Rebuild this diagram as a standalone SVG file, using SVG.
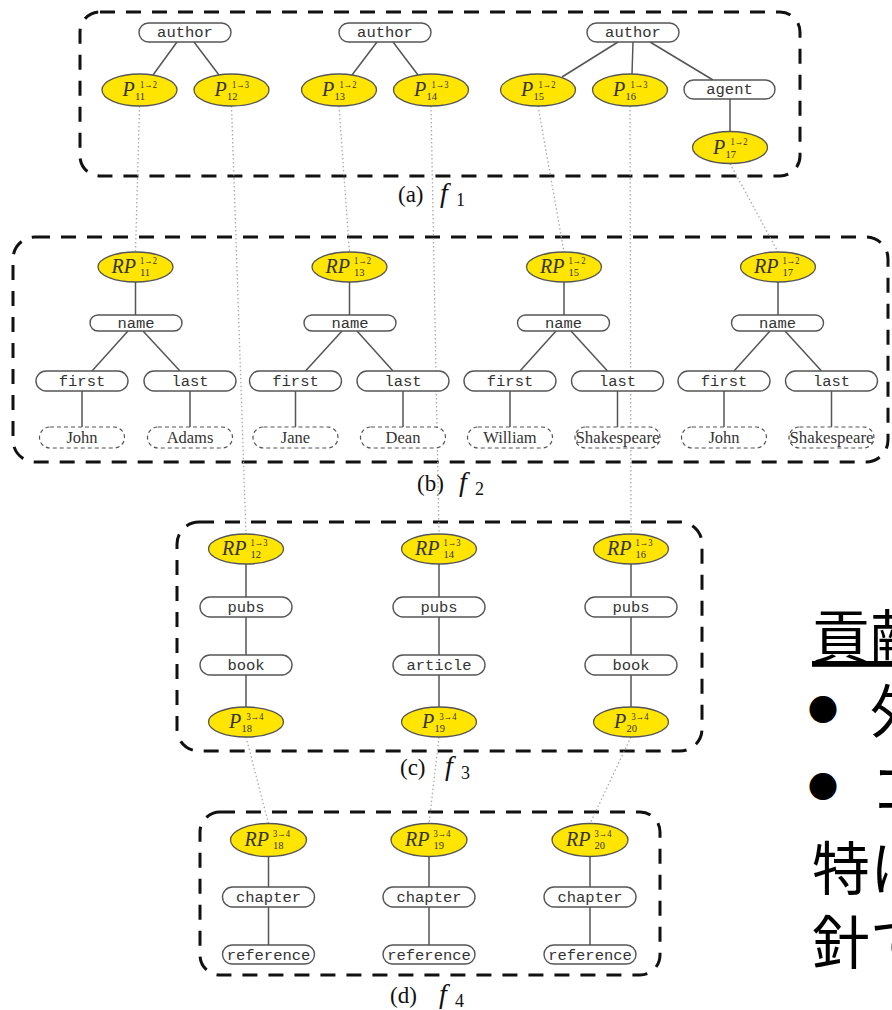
<svg xmlns="http://www.w3.org/2000/svg" width="892" height="1010" viewBox="0 0 892 1010">
<defs>
<style>
.frame{fill:none;stroke:#111;stroke-width:3;stroke-dasharray:15 11}
.box{fill:#fff;stroke:#555;stroke-width:1.4}
.dbox{fill:#fff;stroke:#555;stroke-width:1.2;stroke-dasharray:4 3}
.ell{fill:#FFE500;stroke:#555;stroke-width:1.3}
.edge{stroke:#555;stroke-width:1.5;fill:none}
.dot{stroke:#aaa;stroke-width:1.3;stroke-dasharray:1.5 2.5;fill:none}
.tt{font-family:"Liberation Mono","DejaVu Sans Mono",monospace;font-size:15.5px;fill:#333;text-anchor:middle}
.dt{font-family:"Liberation Serif","DejaVu Serif",serif;font-size:16.5px;fill:#333;text-anchor:middle}
.mi{font-family:"Liberation Serif","DejaVu Serif",serif;font-style:italic;font-size:20px;fill:#333}
.sm{font-family:"Liberation Serif","DejaVu Serif",serif;font-size:10.5px;fill:#333}
.cap{font-family:"Liberation Serif","DejaVu Serif",serif;font-size:23px;fill:#111}
.fi{font-style:italic;font-size:28px}
.fs{font-size:18px}
.jp{font-family:"Noto Sans CJK JP",sans-serif;font-size:58px;fill:#000}
</style>
</defs>
<rect width="892" height="1010" fill="#fff"/>

<!-- frames -->
<g id="frames">
<rect class="frame" x="80" y="12" width="720" height="164" rx="20"/>
<rect class="frame" x="13" y="237" width="875" height="225" rx="22"/>
<rect class="frame" x="177" y="522" width="525" height="229" rx="22"/>
<rect class="frame" x="200" y="812" width="460" height="163" rx="20"/>
</g>

<!-- captions -->
<g id="captions">
<text class="cap" y="202"><tspan x="398">(a)</tspan><tspan x="440" class="fi">f</tspan><tspan x="456" y="206" class="fs">1</tspan></text>
<text class="cap" y="491"><tspan x="417">(b)</tspan><tspan x="459" class="fi">f</tspan><tspan x="475" y="495" class="fs">2</tspan></text>
<text class="cap" y="775"><tspan x="400">(c)</tspan><tspan x="445" class="fi">f</tspan><tspan x="461" y="779" class="fs">3</tspan></text>
<text class="cap" y="1003"><tspan x="390">(d)</tspan><tspan x="439" class="fi">f</tspan><tspan x="455" y="1007" class="fs">4</tspan></text>
</g>

<!-- connectors -->
<g id="connectors">
<!-- (a) tree edges -->
<line class="edge" x1="177" y1="42" x2="153" y2="75"/>
<line class="edge" x1="194" y1="42" x2="219" y2="75"/>
<line class="edge" x1="377" y1="42" x2="352" y2="75"/>
<line class="edge" x1="393" y1="42" x2="418" y2="75"/>
<line class="edge" x1="618" y1="42" x2="562" y2="77"/>
<line class="edge" x1="633" y1="42" x2="632" y2="74"/>
<line class="edge" x1="650" y1="42" x2="713" y2="80"/>
<line class="edge" x1="730" y1="99" x2="730" y2="132"/>
<!-- (b) tree edges -->
<line class="edge" x1="135.5" y1="282" x2="135.5" y2="315"/>
<line class="edge" x1="128" y1="331" x2="92" y2="371"/>
<line class="edge" x1="143" y1="331" x2="180" y2="371"/>
<line class="edge" x1="82" y1="391" x2="82" y2="427"/>
<line class="edge" x1="190" y1="391" x2="190" y2="427"/>
<line class="edge" x1="349.5" y1="282" x2="349.5" y2="315"/>
<line class="edge" x1="342" y1="331" x2="305.5" y2="371"/>
<line class="edge" x1="357" y1="331" x2="393" y2="371"/>
<line class="edge" x1="295.5" y1="391" x2="295.5" y2="427"/>
<line class="edge" x1="403" y1="391" x2="403" y2="427"/>
<line class="edge" x1="564" y1="282" x2="564" y2="315"/>
<line class="edge" x1="556" y1="331" x2="520" y2="371"/>
<line class="edge" x1="571" y1="331" x2="607.5" y2="371"/>
<line class="edge" x1="510" y1="391" x2="510" y2="427"/>
<line class="edge" x1="617.5" y1="391" x2="617.5" y2="427"/>
<line class="edge" x1="778" y1="282" x2="778" y2="315"/>
<line class="edge" x1="770" y1="331" x2="734" y2="371"/>
<line class="edge" x1="785" y1="331" x2="821.5" y2="371"/>
<line class="edge" x1="724" y1="391" x2="724" y2="427"/>
<line class="edge" x1="831.5" y1="391" x2="831.5" y2="427"/>
<!-- (c) tree edges -->
<line class="edge" x1="246" y1="564" x2="246" y2="707"/>
<line class="edge" x1="439" y1="564" x2="439" y2="707"/>
<line class="edge" x1="631" y1="564" x2="631" y2="707"/>
<!-- (d) tree edges -->
<line class="edge" x1="268.5" y1="856" x2="268.5" y2="945"/>
<line class="edge" x1="429" y1="856" x2="429" y2="945"/>
<line class="edge" x1="590" y1="856" x2="590" y2="945"/>
<!-- dotted cross links -->
<line class="dot" x1="139.5" y1="106" x2="135.5" y2="252"/>
<line class="dot" x1="231.5" y1="106" x2="246" y2="534"/>
<line class="dot" x1="339" y1="106" x2="349.5" y2="252"/>
<line class="dot" x1="431" y1="106" x2="439" y2="534"/>
<line class="dot" x1="538" y1="106" x2="564" y2="252"/>
<line class="dot" x1="630" y1="106" x2="631" y2="534"/>
<line class="dot" x1="730" y1="163.5" x2="778" y2="252"/>
<line class="dot" x1="246" y1="737" x2="268.5" y2="823.5"/>
<line class="dot" x1="439" y1="737" x2="429" y2="823.5"/>
<line class="dot" x1="631" y1="737" x2="590" y2="823.5"/>
</g>

<!-- (a) nodes -->
<g id="a-author1"><rect class="box" x="139" y="23" width="92" height="19" rx="9.5"/><text class="tt" x="185" y="37">author</text></g>
<g id="a-author2"><rect class="box" x="339" y="23" width="92" height="19" rx="9.5"/><text class="tt" x="385" y="37">author</text></g>
<g id="a-author3"><rect class="box" x="587" y="23" width="92" height="19" rx="9.5"/><text class="tt" x="633" y="37">author</text></g>
<g id="a-agent"><rect class="box" x="684" y="80" width="91" height="19" rx="9.5"/><text class="tt" x="729.5" y="94">agent</text></g>
<g id="P11"><ellipse class="ell" cx="139.5" cy="90" rx="37.5" ry="16"/><text class="mi" x="122.5" y="96">P</text><text class="sm" x="140" y="87.5" textLength="17" lengthAdjust="spacingAndGlyphs">1→2</text><text class="sm" x="135" y="100">11</text></g>
<g id="P12"><ellipse class="ell" cx="231.5" cy="90" rx="37.5" ry="16"/><text class="mi" x="214.5" y="96">P</text><text class="sm" x="232" y="87.5" textLength="17" lengthAdjust="spacingAndGlyphs">1→3</text><text class="sm" x="227" y="100">12</text></g>
<g id="P13"><ellipse class="ell" cx="339" cy="90" rx="37.5" ry="16"/><text class="mi" x="322" y="96">P</text><text class="sm" x="339.5" y="87.5" textLength="17" lengthAdjust="spacingAndGlyphs">1→2</text><text class="sm" x="334.5" y="100">13</text></g>
<g id="P14"><ellipse class="ell" cx="431" cy="90" rx="37.5" ry="16"/><text class="mi" x="414" y="96">P</text><text class="sm" x="431.5" y="87.5" textLength="17" lengthAdjust="spacingAndGlyphs">1→3</text><text class="sm" x="426.5" y="100">14</text></g>
<g id="P15"><ellipse class="ell" cx="538" cy="90" rx="37.5" ry="16"/><text class="mi" x="521" y="96">P</text><text class="sm" x="538.5" y="87.5" textLength="17" lengthAdjust="spacingAndGlyphs">1→2</text><text class="sm" x="533.5" y="100">15</text></g>
<g id="P16"><ellipse class="ell" cx="630" cy="90" rx="37.5" ry="16"/><text class="mi" x="613" y="96">P</text><text class="sm" x="630.5" y="87.5" textLength="17" lengthAdjust="spacingAndGlyphs">1→3</text><text class="sm" x="625.5" y="100">16</text></g>
<g id="P17"><ellipse class="ell" cx="730" cy="147.5" rx="37.5" ry="16"/><text class="mi" x="713" y="153.5">P</text><text class="sm" x="730.5" y="145" textLength="17" lengthAdjust="spacingAndGlyphs">1→2</text><text class="sm" x="725.5" y="157.5">17</text></g>

<!-- (b) nodes -->
<g id="RP11"><ellipse class="ell" cx="135.5" cy="267" rx="37.5" ry="15"/><text class="mi" x="111.5" y="273">RP</text><text class="sm" x="140" y="264" textLength="17" lengthAdjust="spacingAndGlyphs">1→2</text><text class="sm" x="140" y="275.5">11</text></g>
<g id="RP13"><ellipse class="ell" cx="349.5" cy="267" rx="37.5" ry="15"/><text class="mi" x="325.5" y="273">RP</text><text class="sm" x="354" y="264" textLength="17" lengthAdjust="spacingAndGlyphs">1→2</text><text class="sm" x="354" y="275.5">13</text></g>
<g id="RP15"><ellipse class="ell" cx="564" cy="267" rx="37.5" ry="15"/><text class="mi" x="540" y="273">RP</text><text class="sm" x="568.5" y="264" textLength="17" lengthAdjust="spacingAndGlyphs">1→2</text><text class="sm" x="568.5" y="275.5">15</text></g>
<g id="RP17"><ellipse class="ell" cx="778" cy="267" rx="37.5" ry="15"/><text class="mi" x="754" y="273">RP</text><text class="sm" x="782.5" y="264" textLength="17" lengthAdjust="spacingAndGlyphs">1→2</text><text class="sm" x="782.5" y="275.5">17</text></g>

<g id="b-name1"><rect class="box" x="90" y="315" width="92" height="16" rx="8"/><text class="tt" x="136" y="327.5">name</text></g>
<g id="b-name2"><rect class="box" x="304" y="315" width="92" height="16" rx="8"/><text class="tt" x="350" y="327.5">name</text></g>
<g id="b-name3"><rect class="box" x="517.5" y="315" width="92" height="16" rx="8"/><text class="tt" x="563.5" y="327.5">name</text></g>
<g id="b-name4"><rect class="box" x="731.5" y="315" width="92" height="16" rx="8"/><text class="tt" x="777.5" y="327.5">name</text></g>

<g id="b-first1"><rect class="box" x="36" y="371" width="92" height="20" rx="10"/><text class="tt" x="82" y="386">first</text></g>
<g id="b-last1"><rect class="box" x="144" y="371" width="92" height="20" rx="10"/><text class="tt" x="190" y="386">last</text></g>
<g id="b-first2"><rect class="box" x="249.5" y="371" width="92" height="20" rx="10"/><text class="tt" x="295.5" y="386">first</text></g>
<g id="b-last2"><rect class="box" x="357" y="371" width="92" height="20" rx="10"/><text class="tt" x="403" y="386">last</text></g>
<g id="b-first3"><rect class="box" x="464" y="371" width="92" height="20" rx="10"/><text class="tt" x="510" y="386">first</text></g>
<g id="b-last3"><rect class="box" x="571.5" y="371" width="92" height="20" rx="10"/><text class="tt" x="617.5" y="386">last</text></g>
<g id="b-first4"><rect class="box" x="678" y="371" width="92" height="20" rx="10"/><text class="tt" x="724" y="386">first</text></g>
<g id="b-last4"><rect class="box" x="785.5" y="371" width="92" height="20" rx="10"/><text class="tt" x="831.5" y="386">last</text></g>

<g id="b-john1"><rect class="dbox" x="39.5" y="427" width="85" height="21" rx="10.5"/><text class="dt" x="82" y="443">John</text></g>
<g id="b-adams"><rect class="dbox" x="147.5" y="427" width="85" height="21" rx="10.5"/><text class="dt" x="190" y="443">Adams</text></g>
<g id="b-jane"><rect class="dbox" x="253" y="427" width="85" height="21" rx="10.5"/><text class="dt" x="295.5" y="443">Jane</text></g>
<g id="b-dean"><rect class="dbox" x="360.5" y="427" width="85" height="21" rx="10.5"/><text class="dt" x="403" y="443">Dean</text></g>
<g id="b-william"><rect class="dbox" x="467.5" y="427" width="85" height="21" rx="10.5"/><text class="dt" x="510" y="443">William</text></g>
<g id="b-shakespeare1"><rect class="dbox" x="575" y="427" width="85" height="21" rx="10.5"/><text class="dt" x="617.5" y="443" textLength="84" lengthAdjust="spacingAndGlyphs">Shakespeare</text></g>
<g id="b-john2"><rect class="dbox" x="681.5" y="427" width="85" height="21" rx="10.5"/><text class="dt" x="724" y="443">John</text></g>
<g id="b-shakespeare2"><rect class="dbox" x="789" y="427" width="85" height="21" rx="10.5"/><text class="dt" x="831.5" y="443" textLength="84" lengthAdjust="spacingAndGlyphs">Shakespeare</text></g>

<!-- (c) nodes -->
<g id="RP12"><ellipse class="ell" cx="246" cy="549" rx="37.5" ry="15"/><text class="mi" x="222" y="555">RP</text><text class="sm" x="250.5" y="546" textLength="17" lengthAdjust="spacingAndGlyphs">1→3</text><text class="sm" x="250.5" y="557.5">12</text></g>
<g id="RP14"><ellipse class="ell" cx="439" cy="549" rx="37.5" ry="15"/><text class="mi" x="415" y="555">RP</text><text class="sm" x="443.5" y="546" textLength="17" lengthAdjust="spacingAndGlyphs">1→3</text><text class="sm" x="443.5" y="557.5">14</text></g>
<g id="RP16"><ellipse class="ell" cx="631" cy="549" rx="37.5" ry="15"/><text class="mi" x="607" y="555">RP</text><text class="sm" x="635.5" y="546" textLength="17" lengthAdjust="spacingAndGlyphs">1→3</text><text class="sm" x="635.5" y="557.5">16</text></g>
<g id="c-pubs1"><rect class="box" x="200" y="597" width="92" height="20" rx="10"/><text class="tt" x="246" y="612">pubs</text></g>
<g id="c-pubs2"><rect class="box" x="393" y="597" width="92" height="20" rx="10"/><text class="tt" x="439" y="612">pubs</text></g>
<g id="c-pubs3"><rect class="box" x="585" y="597" width="92" height="20" rx="10"/><text class="tt" x="631" y="612">pubs</text></g>
<g id="c-book1"><rect class="box" x="200" y="655" width="92" height="20" rx="10"/><text class="tt" x="246" y="670">book</text></g>
<g id="c-article"><rect class="box" x="393" y="655" width="92" height="20" rx="10"/><text class="tt" x="439" y="670">article</text></g>
<g id="c-book2"><rect class="box" x="585" y="655" width="92" height="20" rx="10"/><text class="tt" x="631" y="670">book</text></g>
<g id="P18"><ellipse class="ell" cx="246" cy="722" rx="37.5" ry="15"/><text class="mi" x="229" y="728">P</text><text class="sm" x="246.5" y="719.5" textLength="17" lengthAdjust="spacingAndGlyphs">3→4</text><text class="sm" x="241.5" y="732">18</text></g>
<g id="P19"><ellipse class="ell" cx="439" cy="722" rx="37.5" ry="15"/><text class="mi" x="422" y="728">P</text><text class="sm" x="439.5" y="719.5" textLength="17" lengthAdjust="spacingAndGlyphs">3→4</text><text class="sm" x="434.5" y="732">19</text></g>
<g id="P20"><ellipse class="ell" cx="631" cy="722" rx="37.5" ry="15"/><text class="mi" x="614" y="728">P</text><text class="sm" x="631.5" y="719.5" textLength="17" lengthAdjust="spacingAndGlyphs">3→4</text><text class="sm" x="626.5" y="732">20</text></g>

<!-- (d) nodes -->
<g id="RP18"><ellipse class="ell" cx="268.5" cy="840" rx="38" ry="16.5"/><text class="mi" x="244.5" y="846">RP</text><text class="sm" x="273" y="837" textLength="17" lengthAdjust="spacingAndGlyphs">3→4</text><text class="sm" x="273" y="848.5">18</text></g>
<g id="RP19"><ellipse class="ell" cx="429" cy="840" rx="38" ry="16.5"/><text class="mi" x="405" y="846">RP</text><text class="sm" x="433.5" y="837" textLength="17" lengthAdjust="spacingAndGlyphs">3→4</text><text class="sm" x="433.5" y="848.5">19</text></g>
<g id="RP20"><ellipse class="ell" cx="590" cy="840" rx="38" ry="16.5"/><text class="mi" x="566" y="846">RP</text><text class="sm" x="594.5" y="837" textLength="17" lengthAdjust="spacingAndGlyphs">3→4</text><text class="sm" x="594.5" y="848.5">20</text></g>
<g id="d-chapter1"><rect class="box" x="222.5" y="887" width="92" height="20" rx="10"/><text class="tt" x="268.5" y="902">chapter</text></g>
<g id="d-chapter2"><rect class="box" x="383" y="887" width="92" height="20" rx="10"/><text class="tt" x="429" y="902">chapter</text></g>
<g id="d-chapter3"><rect class="box" x="544" y="887" width="92" height="20" rx="10"/><text class="tt" x="590" y="902">chapter</text></g>
<g id="d-reference1"><rect class="box" x="222.5" y="945" width="92" height="19" rx="9.5"/><text class="tt" x="268.5" y="959.5">reference</text></g>
<g id="d-reference2"><rect class="box" x="383" y="945" width="92" height="19" rx="9.5"/><text class="tt" x="429" y="959.5">reference</text></g>
<g id="d-reference3"><rect class="box" x="544" y="945" width="92" height="19" rx="9.5"/><text class="tt" x="590" y="959.5">reference</text></g>

<!-- Japanese slide text (cropped at right edge) -->
<g id="slide-text">
<text class="jp" x="812" y="658" text-decoration="underline">貢献</text>
<text class="jp"><tspan x="808" y="721" font-size="30">●</tspan><tspan x="870" y="733">外</tspan></text>
<text class="jp"><tspan x="808" y="798" font-size="30">●</tspan><tspan x="870" y="810">コ</tspan></text>
<text class="jp" x="812" y="890">特に</text>
<text class="jp" x="812" y="964">針で</text>
</g>
</svg>
